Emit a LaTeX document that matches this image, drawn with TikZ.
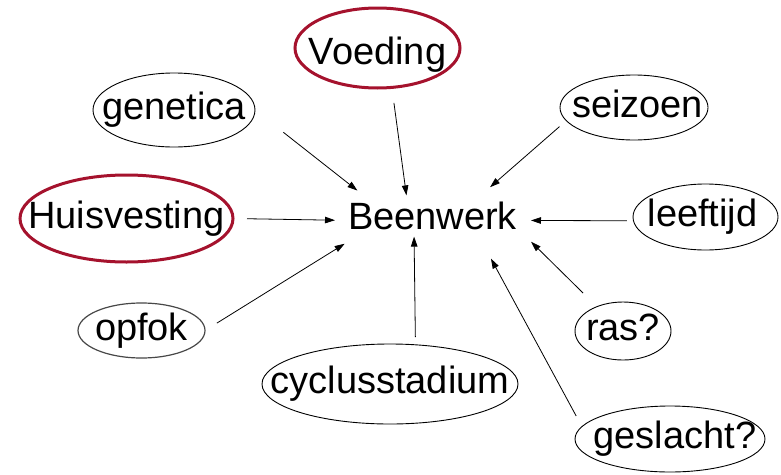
\documentclass[tikz,border=0pt]{standalone}
\usepackage{fontspec}
\setmainfont{Liberation Sans}
\usetikzlibrary{shapes.geometric,arrows.meta}
\definecolor{wine}{RGB}{165,18,45}
\newcommand{\bubtext}[1]{\makebox[0pt]{#1}}

\begin{document}
\begin{tikzpicture}[x=1pt,y=-1pt,
  every node/.style={font=\fontsize{38}{44}\selectfont},
  bubble/.style={ellipse, draw=black, line width=0.9pt, inner sep=0pt, outer sep=0pt,
    text height=27.5pt, text depth=8pt},
  redbubble/.style={bubble, draw=wine, line width=3pt},
  link/.style={-{Triangle[length=10pt,width=6.5pt]}, line width=0.8pt}]

\useasboundingbox (0,0) rectangle (781,474);

% Draw the centre
\node[inner sep=0pt, outer sep=0pt] (Beenwerk) at (432.5,216) {Beenwerk};

% Draw the factors round it
\node[redbubble, minimum width=165pt, minimum height=80pt, text height=41pt] (Voeding) at (377.5,48) {\bubtext{Voeding}};
\node[bubble, minimum width=162pt, minimum height=74pt] (genetica) at (174,110) {\bubtext{genetica}};
\node[bubble, minimum width=148pt, minimum height=65pt] (seizoen) at (634,107.5) {\bubtext{\hspace{7pt}seizoen}};
\node[redbubble, minimum width=213pt, minimum height=87pt] (Huisvesting) at (126.5,218.5) {\bubtext{Huisvesting}};
\node[bubble, minimum width=145pt, minimum height=66pt] (leeftijd) at (705.5,217) {\bubtext{leeftijd\hspace{6pt}}};
\node[bubble, draw=black!72, line width=1.2pt, minimum width=127pt, minimum height=55pt] (opfok) at (141.5,330.5) {\bubtext{opfok}};
\node[bubble, minimum width=96pt, minimum height=58pt] (ras) at (623,331) {\bubtext{ras?}};
\node[bubble, minimum width=256pt, minimum height=80pt] (cyclusstadium) at (390,384) {\bubtext{cyclusstadium}};
\node[bubble, minimum width=190pt, minimum height=66pt] (geslacht) at (670,439) {\bubtext{\hspace{10pt}geslacht?}};

% Draw the arrows into the centre
\draw[link, shorten <=36pt, shorten >=18.6pt] (genetica.east) -- (Beenwerk.167.8);
\draw[link, shorten <=15.7pt, shorten >=6.7pt] (Voeding.-70.1) -- (Beenwerk.151.4);
\draw[link, shorten <=9pt, shorten >=22.6pt] (seizoen.191.5) -- (Beenwerk.19.3);
\draw[link, shorten <=14pt, shorten >=13pt] (Huisvesting.-0.8) -- (Beenwerk.183);
\draw[link, shorten <=6.5pt, shorten >=14pt] (leeftijd.183.2) -- (Beenwerk.-3.3);
\draw[link, shorten <=14pt, shorten >=26.1pt] (opfok.east) -- (Beenwerk.192.2);
\draw[link, shorten <=7.8pt, shorten >=6.6pt] (cyclusstadium.57.5) -- (Beenwerk.217.4);
\draw[link, shorten <=19.4pt, shorten >=19.8pt] (ras.137.3) -- (Beenwerk.-8.5);
\draw[link, shorten <=12.1pt, shorten >=32.6pt] (geslacht.172.7) -- (Beenwerk.-18.6);

\end{tikzpicture}
\end{document}
